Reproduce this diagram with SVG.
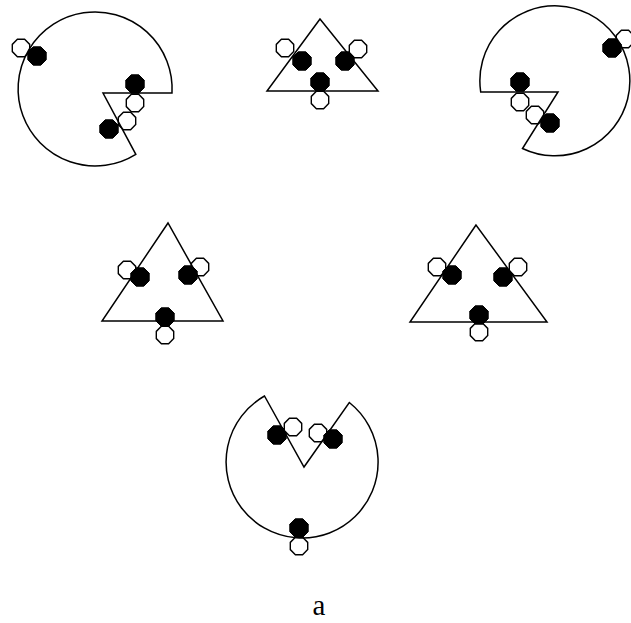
<svg xmlns="http://www.w3.org/2000/svg" xmlns:xlink="http://www.w3.org/1999/xlink" width="631" height="623" viewBox="0 0 631 623">
<style>
.sh{fill:none;stroke:#000;stroke-width:1.5;stroke-linejoin:miter}
.b{fill:#000;stroke:#000;stroke-width:1}
.w{fill:#fff;stroke:#000;stroke-width:1.4}
.lbl{font-family:"Liberation Serif","Times New Roman",serif;font-size:29px;fill:#000}
</style>
<defs>
<polygon id="blk" class="b" points="9.2,3.8 3.8,9.2 -3.8,9.2 -9.2,3.8 -9.2,-3.8 -3.8,-9.2 3.8,-9.2 9.2,-3.8"/>
<polygon id="wht" class="w" points="8.7,3.6 3.6,8.7 -3.6,8.7 -8.7,3.6 -8.7,-3.6 -3.6,-8.7 3.6,-8.7 8.7,-3.6"/>
</defs>
<rect width="631" height="623" fill="#fff"/>
<g id="pac-top-left">
<use xlink:href="#wht" x="21" y="48"/>
<use xlink:href="#wht" x="135" y="103"/>
<use xlink:href="#wht" x="127" y="121"/>
<path class="sh" d="M172,93 L103,93 L135.8,154.3 A77,77 0 1 1 172,93 Z"/>
<use xlink:href="#blk" x="37" y="56"/>
<use xlink:href="#blk" x="135" y="84"/>
<use xlink:href="#blk" x="109" y="129"/>
</g>
<g id="tri-top">
<use xlink:href="#wht" x="285" y="48"/>
<use xlink:href="#wht" x="358" y="49"/>
<use xlink:href="#wht" x="320" y="100"/>
<polygon class="sh" points="320,19 267,91 378,91"/>
<use xlink:href="#blk" x="302" y="61"/>
<use xlink:href="#blk" x="345" y="61"/>
<use xlink:href="#blk" x="320" y="82"/>
</g>
<g id="pac-top-right">
<use xlink:href="#wht" x="625" y="39"/>
<use xlink:href="#wht" x="520" y="102"/>
<use xlink:href="#wht" x="535" y="115"/>
<path class="sh" d="M480.7,92 L558,92 L522.5,148.5 A75,75 0 1 0 480.7,92 Z"/>
<use xlink:href="#blk" x="612" y="48"/>
<use xlink:href="#blk" x="520" y="82"/>
<use xlink:href="#blk" x="550" y="123"/>
</g>
<g id="tri-mid-left">
<use xlink:href="#wht" x="127" y="270"/>
<use xlink:href="#wht" x="200" y="267"/>
<use xlink:href="#wht" x="165" y="335"/>
<polygon class="sh" points="168,223 102,321 223,321"/>
<use xlink:href="#blk" x="140" y="277"/>
<use xlink:href="#blk" x="188" y="275"/>
<use xlink:href="#blk" x="165" y="317"/>
</g>
<g id="tri-mid-right">
<use xlink:href="#wht" x="437" y="267"/>
<use xlink:href="#wht" x="518" y="267"/>
<use xlink:href="#wht" x="479" y="332"/>
<polygon class="sh" points="476,225 410,322 547,322"/>
<use xlink:href="#blk" x="452" y="275"/>
<use xlink:href="#blk" x="503" y="277"/>
<use xlink:href="#blk" x="479" y="315"/>
</g>
<g id="pac-bottom">
<use xlink:href="#blk" x="277" y="435"/>
<use xlink:href="#wht" x="293" y="427"/>
<use xlink:href="#wht" x="318" y="433"/>
<use xlink:href="#wht" x="299" y="546"/>
<path class="sh" d="M264.5,396 L304,467 L349.3,402.5 A76,76 0 1 1 264.5,396 Z"/>
<use xlink:href="#blk" x="333" y="439"/>
<use xlink:href="#blk" x="299" y="528"/>
</g>
<g id="connectors"/>
<text class="lbl" x="319" y="615" text-anchor="middle">a</text>
</svg>
